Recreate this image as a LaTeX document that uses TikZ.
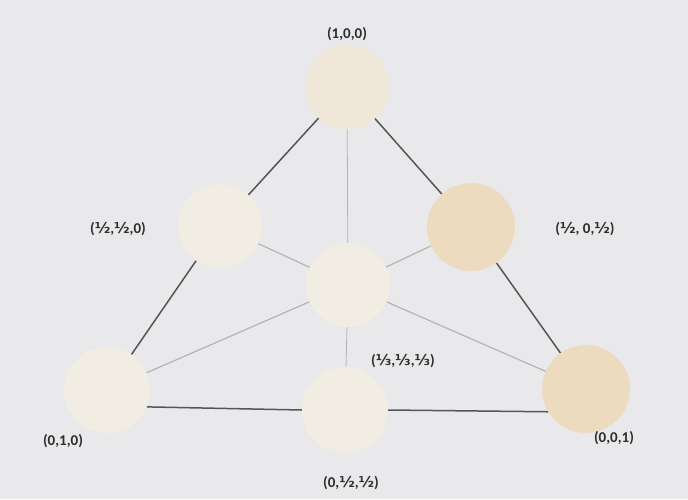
\documentclass[tikz,border=0pt]{standalone}
\usepackage{fontspec}
\setmainfont{Carlito}
\newfontfamily\fracfont{DejaVu Sans}
\definecolor{bg}{HTML}{E9E9EB}
\definecolor{discA}{HTML}{F0E7D9}
\definecolor{discB}{HTML}{F2EDE2}
\definecolor{discC}{HTML}{EDDBC0}
\definecolor{edgeD}{HTML}{555555}
\definecolor{edgeL}{HTML}{B4B4B6}
\definecolor{txt}{HTML}{2E2E2E}
\tikzset{
  disc/.style={circle, minimum size=84pt, inner sep=0pt, draw=none, fill=#1},
  outer/.style={draw=edgeD, line width=1.5pt},
  inner/.style={draw=edgeL, line width=1.2pt},
  lbl/.style={font=\fontsize{15}{16}\selectfont\bfseries, text=txt, inner sep=0pt}
}
\begin{document}
\begin{tikzpicture}[x=1pt,y=-1pt]
\fill[bg] (0,0) rectangle (688,499);
\useasboundingbox (0,0) rectangle (688,499);
% discs
\node[disc=discA] (t) at (347,87) {};
\node[disc=discB] (l) at (220,226) {};
\node[disc=discC, minimum size=88pt] (r) at (471,227) {};
\node[disc=discB] (c) at (348,285) {};
\node[disc=discB, minimum size=86pt] (bl) at (107,390) {};
\node[disc=discB, minimum size=86pt] (bm) at (345,410) {};
\node[disc=discC, minimum size=88pt] (br) at (586,389) {};
% connectors
\draw[outer] (t) -- (l);
\draw[outer] (l) -- (bl);
\draw[outer] (t) -- (r);
\draw[outer] (r) -- (br);
\draw[outer] (bl.-23) -- (bm.west);
\draw[outer] (bm.east) -- (br.-149);
\draw[draw=edgeL, line width=0.8pt] (t) -- (c);
\draw[draw=edgeL, line width=0.8pt] (c) -- (bm);
\draw[inner] (c) -- (l);
\draw[inner] (c) -- (r);
\draw[inner] (c) -- (bl);
\draw[inner] (c) -- (br);
% labels
\node[lbl] (Lt) at (347,34) {(1,0,0)};
\node[lbl] (Ll) at (118,229) {({\fracfont ½},{\fracfont ½},0)};
\node[lbl] (Lr) at (585,229) {({\fracfont ½}, 0,{\fracfont ½})};
\node[lbl] (Lc) at (403,361) {({\fracfont ⅓},{\fracfont ⅓},{\fracfont ⅓})};
\node[lbl] (Lbm) at (351,483) {(0,{\fracfont ½},{\fracfont ½})};
\node[lbl] (Lbl) at (63,441) {(0,1,0)};
\node[lbl] (Lbr) at (614,438) {(0,0,1)};
\end{tikzpicture}
\end{document}
